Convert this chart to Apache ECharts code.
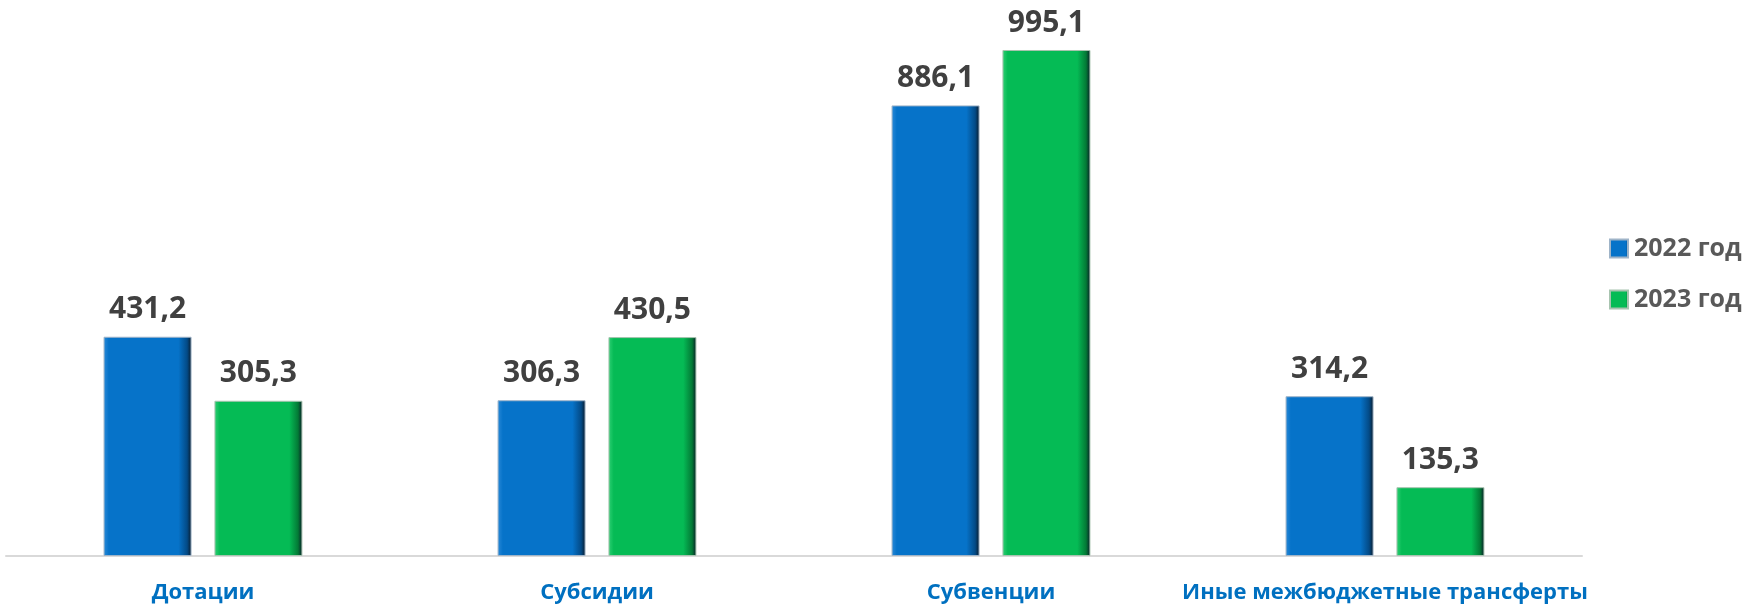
<!DOCTYPE html>
<html><head><meta charset="utf-8">
<script src="https://cdn.jsdelivr.net/npm/echarts@6/dist/echarts.min.js"></script>
<style>html,body{margin:0;padding:0;background:#fff}#c{width:1743px;height:605px}</style>
</head><body><div id="c"></div>
<script>
const categories = ['Дотации', 'Субсидии', 'Субвенции', 'Иные межбюджетные трансферты'];
const series2022 = [431.2, 306.3, 886.1, 314.2];
const series2023 = [305.3, 430.5, 995.1, 135.3];
const seriesNames = ['2022 год', '2023 год'];

function grad(light, main, dark) {
  return new echarts.graphic.LinearGradient(0, 0, 1, 0, [
    {offset: 0, color: light}, {offset: 0.06, color: main},
    {offset: 0.85, color: main}, {offset: 0.95, color: dark}, {offset: 1, color: '#0a1a28'}
  ]);
}
const blue = grad('#2a8ad8', '#0673C9', '#034a86');
const green = grad('#2fd074', '#05BB55', '#037a36');
const fmt = p => String(p.value).replace('.', ',');
const lbl = {show: true, position: 'top', distance: 12, formatter: fmt, color: '#404040',
  fontFamily: 'Open Sans', fontWeight: 'bold', fontSize: 30};

const chart = echarts.init(document.getElementById('c'));
chart.setOption({
  animation: false,
  grid: {left: 6, right: 161, top: 47.5, bottom: 49},
  legend: {
    orient: 'vertical', left: 1604, top: 231, itemGap: 26, itemWidth: 18, itemHeight: 18,
    icon: 'rect',
    textStyle: {fontFamily: 'Open Sans', fontWeight: 'bold', fontSize: 25, color: '#595959', padding: [0, 0, 0, 1]},
    data: seriesNames
  },
  xAxis: {
    type: 'category', data: categories,
    axisLine: {lineStyle: {color: '#d9d9d9', width: 2}},
    axisTick: {show: false},
    axisLabel: {interval: 0, margin: 26, color: '#0070C0', fontFamily: 'Open Sans', fontWeight: 'bold', fontSize: 22}
  },
  yAxis: {type: 'value', min: 0, max: 1000, show: false, splitLine: {show: false}},
  series: [
    {name: seriesNames[0], type: 'bar', data: series2022, barWidth: 88, barGap: '26%',
      itemStyle: {color: blue, borderColor: '#9fb4c8', borderWidth: 1}, label: lbl},
    {name: seriesNames[1], type: 'bar', data: series2023, barWidth: 88,
      itemStyle: {color: green, borderColor: '#a8c4b0', borderWidth: 1}, label: lbl}
  ]
});
</script></body></html>
